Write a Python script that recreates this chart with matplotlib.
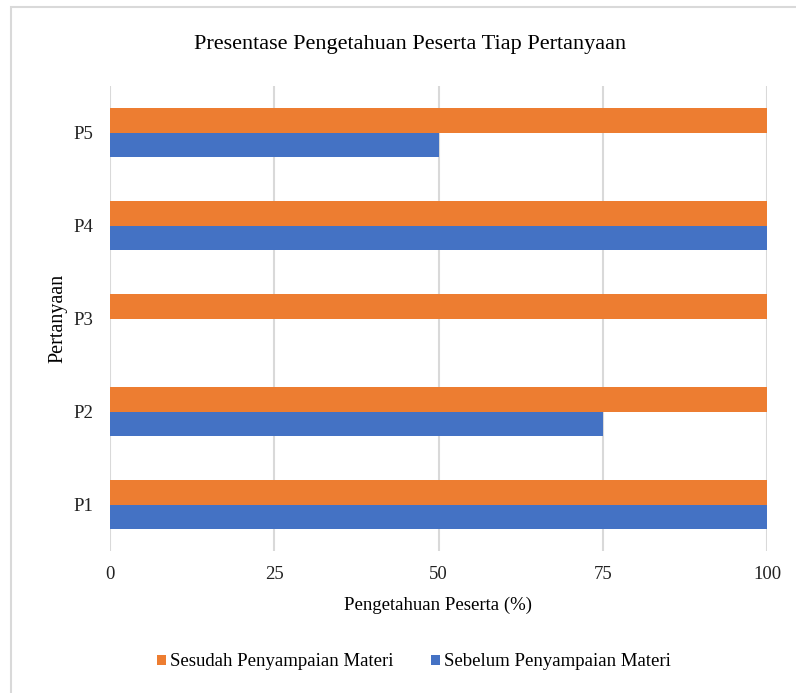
import matplotlib.pyplot as plt
from matplotlib.patches import Rectangle
import numpy as np

categories = ["P1", "P2", "P3", "P4", "P5"]
sesudah = [100, 100, 100, 100, 100]
sebelum = [100, 75, 0, 100, 50]
x_ticks = [0, 25, 50, 75, 100]

plt.rcParams['font.family'] = ['Liberation Serif', 'DejaVu Serif']

fig = plt.figure(figsize=(7.96, 6.93), dpi=100)
# outer chart border (Excel style), cropped at right and bottom
fig.patches.append(Rectangle((11 / 796, -0.1), 1.0, 1.1 - 7 / 693, transform=fig.transFigure,
                             fill=False, edgecolor='#d9d9d9', linewidth=1.5))

ax = fig.add_axes([110 / 796, 1 - 551 / 693, 657 / 796, 465 / 693])
y = np.arange(len(categories))
h = 0.26
ax.barh(y - h / 2, sebelum, h, color='#4472C4', label='Sebelum Penyampaian Materi')
ax.barh(y + h / 2, sesudah, h, color='#ED7D31', label='Sesudah Penyampaian Materi')

ax.set_xlim(0, 100)
ax.set_ylim(-0.5, len(categories) - 0.5)
ax.set_xticks(x_ticks)
ax.set_yticks(y)
ax.set_yticklabels(categories)
ax.tick_params(length=0, labelsize=13.5, colors='#222222')
ax.tick_params(axis='x', pad=11)
ax.tick_params(axis='y', pad=12)
ax.xaxis.grid(True, color='#d9d9d9', linewidth=1.5)
ax.set_axisbelow(True)
for s in ax.spines.values():
    s.set_visible(False)

ax.set_xlabel("Pengetahuan Peserta (%)", fontsize=13.5, labelpad=10)
ax.set_ylabel("Pertanyaan", fontsize=14.5, labelpad=4)
fig.text(410 / 796, 1 - 44 / 693, "Presentase Pengetahuan Peserta Tiap Pertanyaan",
         ha='center', va='center', fontsize=16)

handles, labels = ax.get_legend_handles_labels()
fig.legend(handles[::-1], labels[::-1], loc='center', bbox_to_anchor=(414 / 796, 1 - 662 / 693),
           ncol=2, frameon=False, fontsize=13.5, handlelength=0.48, handleheight=0.48,
           handletextpad=0.2, columnspacing=2.0)

fig.savefig("out.png", dpi=100)
